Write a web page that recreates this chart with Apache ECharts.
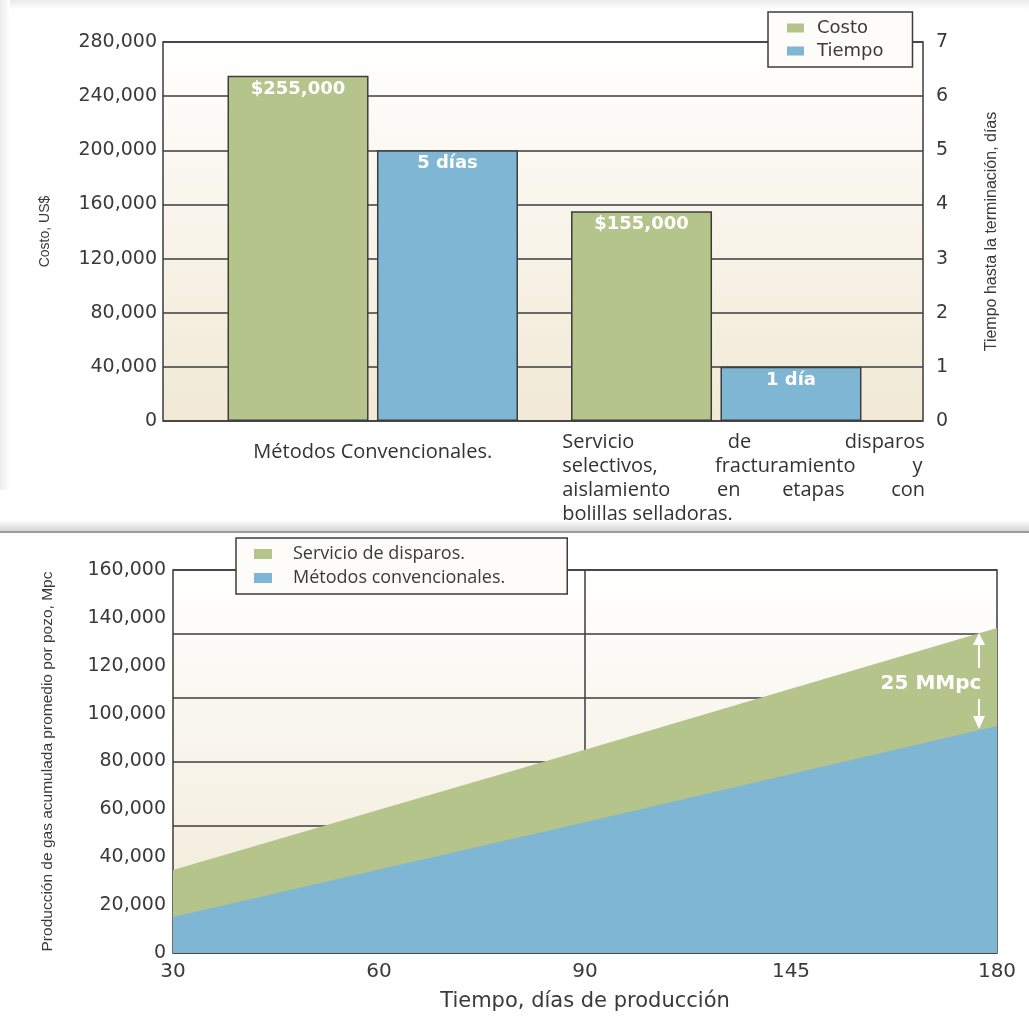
<!DOCTYPE html>
<html>
<head>
<meta charset="utf-8">
<script src="https://cdn.jsdelivr.net/npm/echarts@6/dist/echarts.min.js"></script>
<style>
html, body { margin: 0; padding: 0; background: #fff; }
#chart { width: 1029px; height: 1025px; }
</style>
</head>
<body>
<div id="chart"></div>
<script>
// grafico superior: costo y tiempo por metodo
var metodos = ['Métodos Convencionales.', 'Servicio de disparos selectivos, fracturamiento y aislamiento en etapas con bolillas selladoras.'];
var costo = [255000, 155000];
var tiempo = [5, 1];

// grafico inferior: produccion acumulada
var dias = ['30', '60', '90', '145', '180'];
var servicioDisparos = [34700, 59800, 84900, 110400, 135800];
var metodosConv = [15000, 34900, 54600, 74800, 94800];

var verde = '#b4c48b', azul = '#7eb6d4', linea = '#3d3d3d', texto = '#3a3a3a';
var narrow = "'Liberation Sans', sans-serif";
var fondo = {
    type: 'linear', x: 0, y: 0, x2: 0, y2: 1,
    colorStops: [{offset: 0, color: '#ffffff'}, {offset: 1, color: '#f1e9d5'}]
};

window.onload = function() {
    var chart = echarts.init(document.getElementById('chart'));
    chart.setOption({
        backgroundColor: '#fff',
        animation: false,
        grid: [
            {left: 163, right: 106, top: 42, bottom: 604, show: true, backgroundColor: fondo,
             borderColor: linea, borderWidth: 1.5, outerBoundsMode: 'none'},
            {left: 201, right: 141, top: 42, bottom: 604, outerBoundsMode: 'none'},
            {left: 173, right: 32, top: 570, bottom: 72, show: true, backgroundColor: fondo,
             borderColor: linea, borderWidth: 1.5, outerBoundsMode: 'none'}
        ],
        legend: [{
            data: ['Costo', 'Tiempo'],
            orient: 'vertical',
            left: 768, top: 12,
            padding: [5, 29, 5, 19],
            itemGap: 1,
            itemWidth: 17, itemHeight: 9,
            icon: 'rect',
            itemStyle: {borderWidth: 0},
            backgroundColor: '#fdfcf8',
            borderColor: linea, borderWidth: 1.5, borderRadius: 0,
            textStyle: {fontFamily: 'DejaVu Sans', fontSize: 18, color: texto, lineHeight: 22, padding: [0, 0, 0, 8]}
        }, {
            data: ['Servicio de disparos.', 'Métodos convencionales.'],
            orient: 'vertical',
            left: 236, top: 538,
            padding: [5, 62, 5, 18],
            itemGap: 2,
            itemWidth: 18, itemHeight: 10,
            icon: 'rect',
            itemStyle: {borderWidth: 0},
            backgroundColor: '#fdfcf8',
            borderColor: linea, borderWidth: 1.5, borderRadius: 0,
            textStyle: {fontFamily: 'Open Sans', fontSize: 18, color: texto, lineHeight: 22, padding: [0, 0, 0, 16]}
        }],
        xAxis: [{
            gridIndex: 0, type: 'category', data: metodos, show: false
        }, {
            gridIndex: 1, type: 'category',
            axisLine: {show: false}, axisTick: {show: false},
            axisLabel: {
                interval: 0, margin: 9,
                fontFamily: 'Open Sans', fontSize: 20, lineHeight: 24, color: '#333',
                formatter: function(v, i) {
                    if (i === 0) return v;
                    // texto justificado como en el original
                    return 'Servicio                  de                  disparos\n' +
                        'selectivos,           fracturamiento           y\n' +
                        'aislamiento         en        etapas         con\n' +
                        'bolillas selladoras.';
                }
            },
            data: [
                {value: metodos[0], textStyle: {padding: [10, 0, 0, 0]}},
                {value: metodos[1], textStyle: {align: 'left', padding: [0, 0, 0, -154]}}
            ]
        }, {
            gridIndex: 2, type: 'category', data: dias, boundaryGap: false,
            name: 'Tiempo, días de producción',
            nameLocation: 'middle', nameGap: 38,
            nameTextStyle: {fontFamily: 'DejaVu Sans', fontSize: 21, color: texto},
            axisLine: {show: false}, axisTick: {show: false},
            axisLabel: {margin: 9, fontFamily: 'DejaVu Sans', fontSize: 20, color: texto},
            splitLine: {
                show: true,
                interval: function(i) { return i === 2; },
                lineStyle: {color: linea, width: 1.5}
            }
        }],
        yAxis: [{
            gridIndex: 0, type: 'value', min: 0, max: 280000, interval: 40000,
            name: 'Costo, US$', nameLocation: 'middle', nameGap: 111, nameRotate: 90,
            nameTextStyle: {fontFamily: narrow, fontSize: 14, color: texto},
            axisLine: {show: false}, axisTick: {show: false},
            axisLabel: {margin: 6, fontFamily: 'DejaVu Sans', fontSize: 19, color: texto,
                formatter: function(v) { return v.toLocaleString('en-US'); }},
            splitLine: {lineStyle: {color: linea, width: 1.5}}
        }, {
            gridIndex: 0, type: 'value', position: 'right', min: 0, max: 7, interval: 1,
            name: 'Tiempo hasta la terminación, días', nameLocation: 'middle', nameGap: 61, nameRotate: 90,
            nameTextStyle: {fontFamily: narrow, fontSize: 16, color: texto},
            axisLine: {show: false}, axisTick: {show: false},
            axisLabel: {margin: 13, fontFamily: 'DejaVu Sans', fontSize: 19, color: texto},
            splitLine: {show: false}
        }, {
            gridIndex: 1, type: 'value', min: 0, max: 280000, show: false
        }, {
            gridIndex: 1, type: 'value', min: 0, max: 7, show: false
        }, {
            gridIndex: 2, type: 'value', min: 0, max: 160000, interval: 20000,
            name: 'Producción de gas acumulada promedio por pozo, Mpc',
            nameLocation: 'middle', nameGap: 117, nameRotate: 90,
            nameTextStyle: {fontFamily: narrow, fontSize: 15.5, color: texto},
            axisLine: {show: false}, axisTick: {show: false},
            axisLabel: {margin: 7, fontFamily: 'DejaVu Sans', fontSize: 19, color: texto,
                formatter: function(v) { return v.toLocaleString('en-US'); }},
            splitLine: {show: false}
        }, {
            // rejilla del original, no coincide con las etiquetas
            gridIndex: 2, type: 'value', min: 0, max: 6, interval: 1,
            axisLine: {show: false}, axisTick: {show: false}, axisLabel: {show: false},
            splitLine: {lineStyle: {color: linea, width: 1.5}}
        }],
        series: [{
            name: 'Costo', type: 'bar',
            xAxisIndex: 1, yAxisIndex: 2,
            data: costo,
            barWidth: 141, barGap: '6%',
            itemStyle: {color: verde, borderColor: linea, borderWidth: 1.5},
            label: {show: true, position: 'insideTop', distance: 4,
                fontFamily: 'DejaVu Sans', fontWeight: 'bold', fontSize: 18, color: '#fff',
                formatter: function(p) { return '$' + p.value.toLocaleString('en-US'); }}
        }, {
            name: 'Tiempo', type: 'bar',
            xAxisIndex: 1, yAxisIndex: 3,
            data: tiempo,
            barWidth: 141,
            itemStyle: {color: azul, borderColor: linea, borderWidth: 1.5},
            label: {show: true, position: 'insideTop', distance: 4,
                fontFamily: 'DejaVu Sans', fontWeight: 'bold', fontSize: 18, color: '#fff',
                formatter: function(p) { return p.value + (p.value === 1 ? ' día' : ' días'); }}
        }, {
            name: 'Servicio de disparos.', type: 'line',
            xAxisIndex: 2, yAxisIndex: 4,
            data: servicioDisparos,
            symbol: 'none',
            color: verde,
            lineStyle: {width: 0},
            areaStyle: {color: verde, opacity: 1}
        }, {
            name: 'Métodos convencionales.', type: 'line',
            xAxisIndex: 2, yAxisIndex: 4,
            data: metodosConv,
            symbol: 'none',
            color: azul,
            lineStyle: {width: 0},
            areaStyle: {color: azul, opacity: 1}
        }],
        graphic: [
            // sombra del recuadro superior y separador
            {type: 'rect', z: -10, shape: {x: 0, y: 0, width: 1029, height: 9},
             style: {fill: {type: 'linear', x: 0, y: 0, x2: 0, y2: 1,
                colorStops: [{offset: 0, color: '#e9e9e9'}, {offset: 1, color: '#ffffff'}]}}},
            {type: 'rect', z: -10, shape: {x: 0, y: 0, width: 10, height: 490},
             style: {fill: {type: 'linear', x: 0, y: 0, x2: 1, y2: 0,
                colorStops: [{offset: 0, color: '#ececec'}, {offset: 1, color: '#ffffff'}]}}},
            {type: 'rect', z: -10, shape: {x: 0, y: 520, width: 1029, height: 11},
             style: {fill: {type: 'linear', x: 0, y: 0, x2: 0, y2: 1,
                colorStops: [{offset: 0, color: '#ffffff'}, {offset: 1, color: '#d6d6d6'}]}}},
            {type: 'line', z: -9, shape: {x1: 0, y1: 532, x2: 1029, y2: 532},
             style: {stroke: '#9a9a9a', lineWidth: 2}},
            // anotacion 25 MMpc
            {type: 'polyline', z: 100, shape: {points: [[979, 668], [979, 642]]},
             style: {stroke: '#fff', lineWidth: 2}},
            {type: 'polygon', z: 100, shape: {points: [[973, 645], [985, 645], [979, 633]]},
             style: {fill: '#fff'}},
            {type: 'polyline', z: 100, shape: {points: [[979, 699], [979, 718]]},
             style: {stroke: '#fff', lineWidth: 2}},
            {type: 'polygon', z: 100, shape: {points: [[973, 716], [985, 716], [979, 729]]},
             style: {fill: '#fff'}},
            {type: 'text', z: 100, x: 931, y: 684,
             style: {text: '25 MMpc', fill: '#fff', align: 'center', verticalAlign: 'middle',
                font: 'bold 20px "DejaVu Sans"'}}
        ]
    });
};
</script>
</body>
</html>
